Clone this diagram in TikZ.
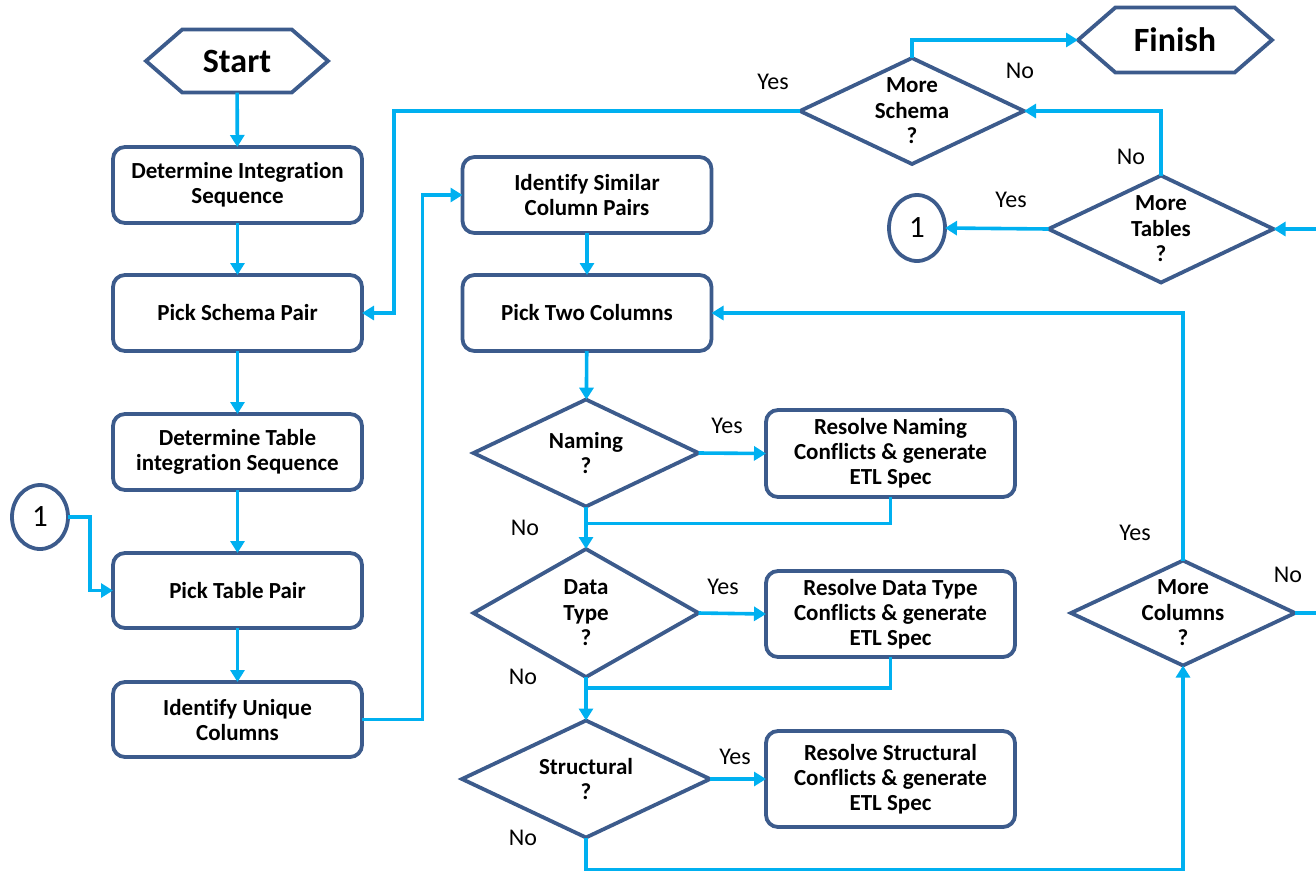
\documentclass[tikz,border=0pt]{standalone}
\usepackage{fontspec}
\setmainfont{Carlito}[Ligatures=NoCommon]
\usetikzlibrary{shapes.geometric,shapes.symbols,arrows.meta}
\definecolor{edgeblue}{HTML}{3C5B8C}
\definecolor{flowcyan}{HTML}{00B0F0}
\begin{document}
\begin{tikzpicture}[x=1pt,y=-1pt,
  every node/.style={inner sep=0pt, outer sep=0pt},
  procbox/.style={draw=edgeblue, line width=3.8pt, rounded corners=12pt, fill=white,
    minimum width=249pt, minimum height=76pt, align=center,
    font=\bfseries\fontsize{23}{25}\selectfont},
  decision/.style={draw=edgeblue, line width=3.8pt, diamond, fill=white},
  dtext/.style={align=center, font=\bfseries\fontsize{23}{25.5}\selectfont},
  terminal/.style={draw=edgeblue, line width=3.8pt, signal, signal to=west and east,
    signal pointer angle=82, fill=white, font=\bfseries\fontsize{34}{36}\selectfont},
  pageref/.style={draw=edgeblue, line width=3.8pt, ellipse, fill=white,
    minimum width=56pt, minimum height=64pt, font=\fontsize{31}{32}\selectfont},
  flow/.style={draw=flowcyan, line width=3.6pt, -{Triangle[length=12pt,width=14pt]}},
  joinline/.style={draw=flowcyan, line width=3.6pt},
  answer/.style={font=\fontsize{24}{26}\selectfont}
]
\useasboundingbox (0,0) rectangle (1316,871);
\clip (0,0) rectangle (1316,871);

% terminals
\node[terminal, minimum width=182pt, minimum height=63pt] (start) at (237,61) {Start};
\node[terminal, minimum width=194pt, minimum height=65pt] (finish) at (1175,40) {Finish};

% left column
\node[procbox] (dis) at (237.5,185) {Determine Integration\\Sequence};
\node[procbox] (psp) at (237.5,313) {Pick Schema Pair};
\node[procbox] (dts) at (237.5,452) {Determine Table\\integration Sequence};
\node[procbox, minimum height=75pt] (ptp) at (237.5,590.5) {Pick Table Pair};
\node[procbox, minimum height=75pt] (iuc) at (237.5,719.5) {Identify Unique\\Columns};

% middle column
\node[procbox] (iscp) at (587,195) {Identify Similar\\Column Pairs};
\node[procbox] (ptc) at (587,313) {Pick Two Columns};

\node[decision, minimum width=225pt, minimum height=107pt] (naming) at (586,453) {};
\node[dtext] (namingq) at (naming) {Naming\\?};
\node[decision, minimum width=225pt, minimum height=128pt] (dt) at (586,613) {};
\node[dtext] (dtq) at (dt) {Data\\Type\\?};
\node[decision, minimum width=248pt, minimum height=117pt] (struct) at (586,779) {};
\node[dtext] (structq) at (struct) {Structural\\?};

% resolution boxes
\node[procbox, minimum height=87pt] (resn) at (890.5,453.5) {Resolve Naming\\Conflicts \& generate\\ETL Spec};
\node[procbox, minimum height=86pt] (resd) at (890.5,614) {Resolve Data Type\\Conflicts \& generate\\ETL Spec};
\node[procbox, minimum height=96pt] (ress) at (890.5,779) {Resolve Structural\\Conflicts \& generate\\ETL Spec};

% loop decisions
\node[decision, minimum width=224pt, minimum height=106pt] (ms) at (912,111) {};
\node[dtext] (msq) at (ms) {More\\Schema\\?};
\node[decision, minimum width=225pt, minimum height=107pt] (mt) at (1161,229) {};
\node[dtext] (mtq) at (mt) {More\\Tables\\?};
\node[decision, minimum width=224pt, minimum height=105pt] (mc) at (1183,613) {};
\node[dtext] (mcq) at (mc) {More\\Columns\\?};

% page connectors
\node[pageref] (onel) at (40,517) {1};
\node[pageref, minimum height=66pt] (oner) at (917,228) {1};

% main flow
\draw[flow] (start) -- (dis);
\draw[flow] (dis) -- (psp);
\draw[flow] (psp) -- (dts);
\draw[flow] (dts) -- (ptp);
\draw[flow] (ptp) -- (iuc);
\draw[flow] (onel.east) -| ([xshift=-23pt]ptp.west) -- (ptp.west);
\draw[flow] (iuc.east) -| ([xshift=-40pt]iscp.west) -- (iscp.west);
\draw[flow] (iscp) -- (ptc);
\draw[flow] (ptc) -- (naming);

% conflict checks
\draw[flow] (naming.east) -- (resn.west);
\draw[flow] (naming.south) -- (dt.north);
\draw[joinline] (resn.south) |- ([yshift=-17pt]naming.south);
\draw[flow] (dt.east) -- (resd.west);
\draw[flow] (dt.south) -- (struct.north);
\draw[joinline] (resd.south) |- ([yshift=-11pt]dt.south);
\draw[flow] (struct.east) -- (ress.west);
\draw[flow] (struct.south) -- ++(0,32) -| (mc.south);

% loops
\draw[flow] (mc.north) |- (ptc.east);
\draw[flow] (mc.east) -- ++(60,0) |- (mt.east);
\draw[flow] (mt.west) -- (oner.east);
\draw[flow] (mt.north) |- (ms.east);
\draw[flow] (ms.north) |- (finish.west);
\draw[flow] (ms.west) -| ([xshift=32pt]psp.east) -- (psp.east);

% answers
\node[answer] (a1) at (773,82) {Yes};
\node[answer] (a2) at (1020,71) {No};
\node[answer] (a3) at (1131,157) {No};
\node[answer] (a4) at (1011,200) {Yes};
\node[answer] (a5) at (727,426) {Yes};
\node[answer] (a6) at (525,528) {No};
\node[answer] (a7) at (723,587) {Yes};
\node[answer] (a8) at (523,677) {No};
\node[answer] (a9) at (735,757) {Yes};
\node[answer] (a10) at (523,838) {No};
\node[answer] (a11) at (1135,533) {Yes};
\node[answer] (a12) at (1288,575) {No};
\end{tikzpicture}
\end{document}
